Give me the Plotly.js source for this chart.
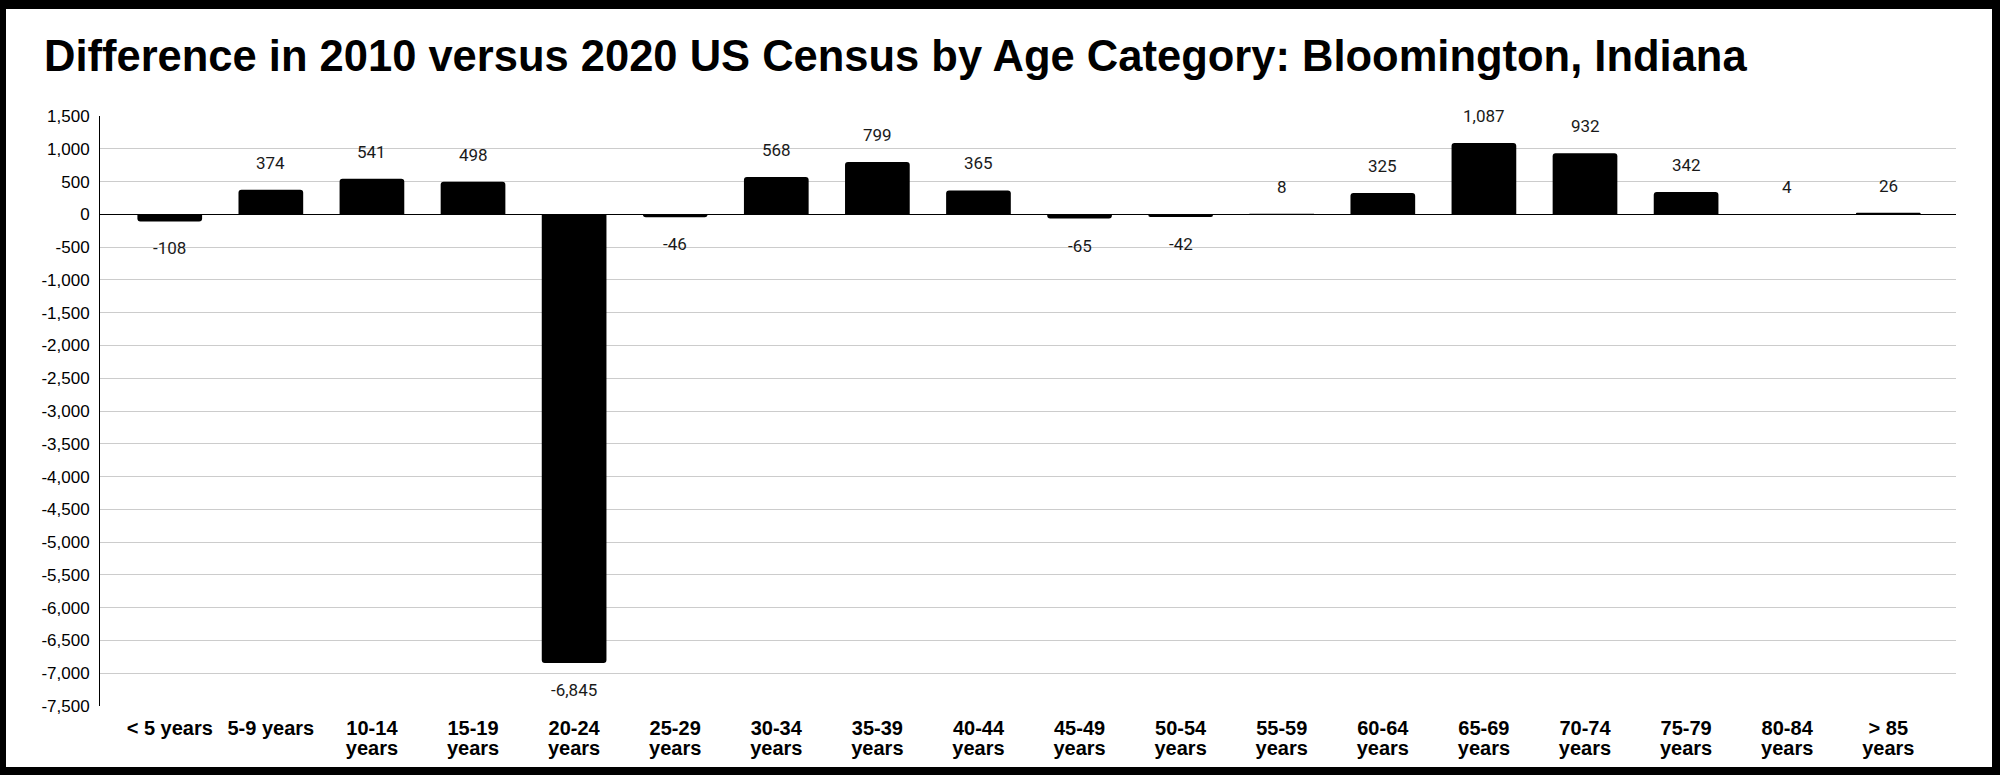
<!DOCTYPE html>
<html>
<head>
<meta charset="utf-8">
<script src="https://cdn.plot.ly/plotly-3.0.1.min.js"></script>
<style>
  html, body { margin: 0; padding: 0; background: #000; width: 2000px; height: 775px; overflow: hidden; }
  #chart { position: absolute; left: 6px; top: 9px; width: 1986px; height: 758px; background: #fff; }
</style>
</head>
<body>
<div id="chart"></div>
<script>
const categories = [
  "&lt; 5 years", "5-9 years", "10-14<br>years", "15-19<br>years", "20-24<br>years",
  "25-29<br>years", "30-34<br>years", "35-39<br>years", "40-44<br>years", "45-49<br>years",
  "50-54<br>years", "55-59<br>years", "60-64<br>years", "65-69<br>years", "70-74<br>years",
  "75-79<br>years", "80-84<br>years", "&gt; 85<br>years"
];
const differences = [-108, 374, 541, 498, -6845, -46, 568, 799, 365, -65, -42, 8, 325, 1087, 932, 342, 4, 26];
const yTickValues = [1500, 1000, 500, 0, -500, -1000, -1500, -2000, -2500, -3000, -3500, -4000, -4500, -5000, -5500, -6000, -6500, -7000, -7500];
const yTickLabels = ["1,500", "1,000", "500", "0", "-500", "-1,000", "-1,500", "-2,000", "-2,500", "-3,000", "-3,500", "-4,000", "-4,500", "-5,000", "-5,500", "-6,000", "-6,500", "-7,000", "-7,500"];
const titleText = "Difference in 2010 versus 2020 US Census by Age Category: Bloomington, Indiana";

function fmt(v) {
  const s = Math.abs(v).toString().replace(/\B(?=(\d{3})+(?!\d))/g, ",");
  return (v < 0 ? "-" : "") + s;
}

const trace = {
  type: "bar",
  x: categories,
  y: differences,
  marker: { color: "#000000", cornerradius: 3 },
  hoverinfo: "x+y"
};

const annotations = differences.map((v, i) => ({
  x: categories[i],
  y: v,
  xref: "x",
  yref: "y",
  text: fmt(v),
  showarrow: false,
  yshift: v >= 0 ? 27 : -27,
  yanchor: "middle",
  font: { family: "Roboto, sans-serif", size: 17, color: "#1a1a1a" }
}));

const layout = {
  width: 1986,
  height: 758,
  paper_bgcolor: "#ffffff",
  plot_bgcolor: "#ffffff",
  margin: { l: 94, r: 36, t: 107, b: 61, autoexpand: false },
  title: {
    text: "<b>" + titleText + "</b>",
    font: { family: "Liberation Sans, Arial, sans-serif", size: 43.5, color: "#000000" },
    xref: "container",
    yref: "container",
    x: 38 / 1986,
    xanchor: "left",
    y: 1 - 47 / 758,
    yanchor: "middle"
  },
  bargap: 0.36,
  showlegend: false,
  xaxis: {
    type: "category",
    range: [-0.69, 17.67],
    showgrid: false,
    zeroline: false,
    showline: false,
    ticks: "",
    ticklabelstandoff: 8,
    tickfont: { family: "Liberation Sans, Arial, sans-serif", size: 20, color: "#000000", weight: "bold" },
    tickangle: 0,
    automargin: false,
    fixedrange: true
  },
  yaxis: {
    range: [-7500, 1500],
    tickvals: yTickValues,
    ticktext: yTickLabels,
    showgrid: true,
    gridcolor: "#cccccc",
    gridwidth: 1,
    zeroline: true,
    zerolinecolor: "#000000",
    zerolinewidth: 1.5,
    showline: true,
    linecolor: "#000000",
    linewidth: 1,
    ticks: "",
    ticklabelstandoff: 6,
    tickfont: { family: "Liberation Sans, Arial, sans-serif", size: 17, color: "#000000" },
    automargin: false,
    fixedrange: true
  },
  annotations: annotations
};

Plotly.newPlot("chart", [trace], layout, { displayModeBar: false, staticPlot: true }).then(function (gd) {
  // tighten the line spacing of two-line category labels to match the reference
  gd.querySelectorAll(".xtick text").forEach(function (t) {
    const lines = t.querySelectorAll("tspan.line");
    lines.forEach(function (ln, k) {
      if (k > 0) ln.setAttribute("dy", (k * 1.0) + "em");
    });
  });
});
</script>
</body>
</html>
